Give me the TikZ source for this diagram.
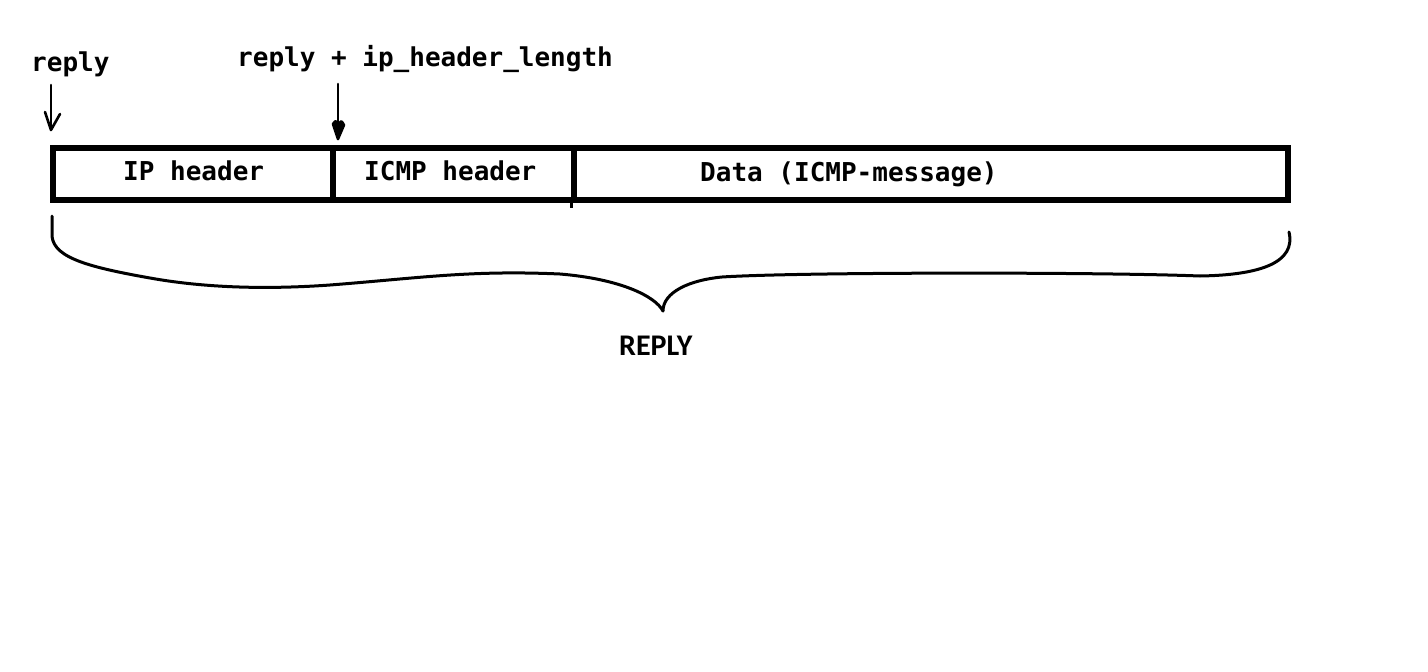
\documentclass[tikz,border=0pt]{standalone}
\usepackage{fontspec}
\newfontfamily\monob{DejaVu Sans Mono}
\newfontfamily\capsf{Carlito}
\begin{document}
\begin{tikzpicture}[x=1pt,y=-1pt,
  cell/.style={draw=black,line width=5.5pt,minimum height=52pt,inner sep=0pt,anchor=north west},
  lbl/.style={font=\monob\bfseries\fontsize{26}{30}\selectfont,inner sep=0pt,anchor=base west},
  pen/.style={line width=2.6pt,line cap=round,line join=round},
  brace/.style={line width=3pt,line cap=round,line join=round}]
\useasboundingbox[fill=white] (0,0) rectangle (1428,672);
% cells
\node[cell,minimum width=280pt] (ip) at (50,145) {};
\node[cell,minimum width=241pt] (icmp) at (330,145) {};
\node[cell,minimum width=714pt] (data) at (571,145) {};
% texts
\node[lbl] (tip) at (123,180) {IP header};
\node[lbl] (ticmp) at (364,180) {ICMP header};
\node[lbl] (tdata) at (700,181) {Data (ICMP-message)};
\node[lbl] (reply) at (31,71) {reply};
\node[lbl] (replyip) at (237,66) {reply + ip\_header\_length};
\node[font=\capsf\bfseries\fontsize{30}{34}\selectfont,inner sep=0pt,anchor=base west] (REPLY) at (619,355) {REPLY};
% arrows
\coordinate (a1s) at (51,85);
\coordinate (a1e) at (51,130);
\draw[pen] (a1s) -- (a1e);
\draw[pen] ([xshift=-6pt,yshift=18pt]a1e) -- (a1e) -- ([xshift=9pt,yshift=16pt]a1e);
\coordinate (a2s) at (338,84);
\coordinate (a2e) at (338,139);
\draw[pen] (a2s) -- (a2e);
\draw[pen,fill=black] ([xshift=-5pt,yshift=15pt]a2e) .. controls ([xshift=-2pt,yshift=19pt]a2e) .. ([yshift=13pt]a2e)
  .. controls ([xshift=3pt,yshift=19pt]a2e) .. ([xshift=6pt,yshift=14pt]a2e) -- (a2e) -- cycle;
% small overshoot of divider
\draw[line width=3pt] (data.south west) -- ++(0,5);
% brace
\coordinate (bl) at (52,216);
\coordinate (bt) at (663,311);
\coordinate (br) at (1289,232);
\draw[brace] (bl) -- (52,232) .. controls (50,256) and (82,266) .. (150,278)
  .. controls (200,287) and (260,290) .. (330,285)
  .. controls (420,278) and (470,270) .. (560,274)
  .. controls (620,279) and (655,296) .. (bt);
\draw[brace] (bt) .. controls (663,292) and (690,280) .. (722,277)
  .. controls (800,272) and (1100,272) .. (1200,276)
  .. controls (1262,275) and (1296,262) .. (br);
\end{tikzpicture}
\end{document}
